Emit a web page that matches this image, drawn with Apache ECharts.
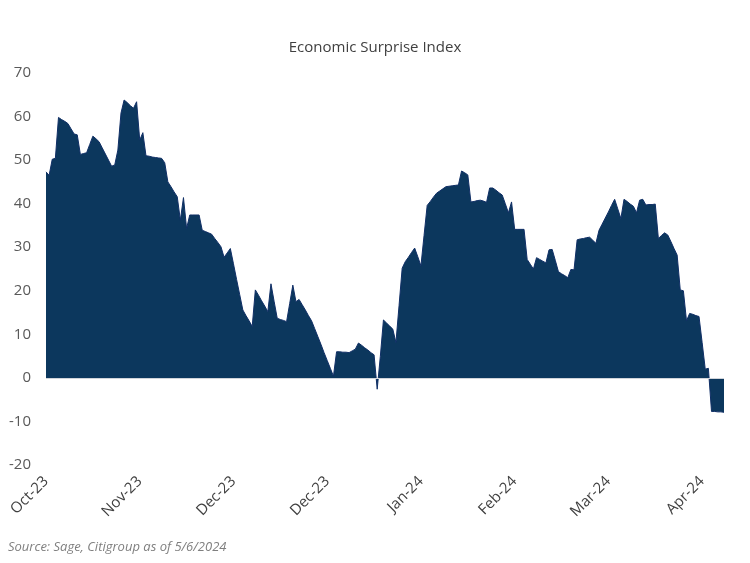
<!DOCTYPE html>
<html lang="en">
<head>
    <meta charset="UTF-8">
    <title>Economic Surprise Index</title>
    <script src="https://cdn.jsdelivr.net/npm/echarts@6/dist/echarts.min.js"></script>
</head>
<body style="margin:0;background:#fff;">

<div id="chart_wrap" style="width: 750px; height: 563px;"></div>

<script>
    // daily points, 2 Oct 2023 .. 6 May 2024
    var start_date = "2023-10-02";
    var day_count = 218;
    var month_names = ["Jan", "Feb", "Mar", "Apr", "May", "Jun", "Jul", "Aug", "Sep", "Oct", "Nov", "Dec"];

    var surprise = [
        47.3, 46.5, 50.2, 50.4, 59.8, 59.3, 58.9, 58.4, 57.2, 56.0,
        55.8, 51.3, 51.5, 51.7, 53.6, 55.5, 54.9, 54.2, 52.8, 51.4,
        50.0, 48.6, 48.9, 52.3, 60.8, 63.8, 63.2, 62.5, 61.9, 63.4,
        54.6, 56.3, 51.0, 50.9, 50.7, 50.6, 50.5, 50.4, 49.4, 45.0,
        43.9, 42.7, 41.6, 36.2, 41.4, 34.3, 37.4, 37.4, 37.4, 37.4,
        33.9, 33.6, 33.3, 33.0, 32.0, 31.1, 30.1, 27.7, 28.7, 29.7,
        26.2, 22.6, 19.1, 15.6, 14.3, 13.1, 11.8, 20.2, 19.0, 17.7,
        16.5, 15.2, 21.6, 17.6, 13.7, 13.4, 13.2, 12.9, 17.1, 21.3,
        17.5, 18.0, 16.8, 15.6, 14.3, 13.1, 11.3, 9.5, 7.7, 5.8,
        4.0, 2.2, 0.4, 6.0, 6.0, 5.9, 5.9, 5.8, 6.2, 6.6,
        8.0, 7.5, 6.9, 6.4, 5.8, 5.3, -2.6, 4.9, 13.3, 12.6,
        11.9, 11.2, 8.1, 16.6, 25.2, 26.7, 27.7, 28.8, 29.8, 27.8,
        25.7, 32.7, 39.6, 40.5, 41.5, 42.4, 42.9, 43.4, 43.9, 44.0,
        44.1, 44.2, 44.3, 47.5, 47.1, 46.6, 40.4, 40.5, 40.7, 40.8,
        40.6, 40.3, 43.6, 43.6, 43.1, 42.5, 42.0, 40.0, 37.9, 40.4,
        34.1, 34.1, 34.1, 34.1, 27.2, 26.1, 25.0, 27.6, 27.2, 26.8,
        26.4, 29.4, 29.5, 27.0, 24.4, 23.9, 23.5, 23.0, 24.9, 24.8,
        31.7, 31.9, 32.0, 32.2, 32.3, 31.6, 30.9, 33.9, 35.3, 36.7,
        38.1, 39.6, 41.0, 38.8, 36.6, 41.0, 40.5, 39.9, 39.4, 37.9,
        40.8, 41.0, 39.7, 39.8, 39.8, 39.9, 32.0, 32.7, 33.3, 32.8,
        31.3, 29.7, 28.2, 20.2, 20.0, 13.1, 14.8, 14.6, 14.3, 14.1,
        8.1, 2.0, 2.2, -7.7, -7.7, -7.8, -7.8, -7.9
    ];

    var y_min = -20;
    var y_max = 70;
    var y_step = 10;

    function makeDays(first, n) {
        var out = [];
        var d = new Date(first + "T00:00:00Z");
        for (var i = 0; i < n; i++) {
            out.push(d.toISOString().slice(0, 10));
            d.setUTCDate(d.getUTCDate() + 1);
        }
        return out;
    }

    var days = makeDays(start_date, day_count);

    function dayLabel(val) {
        var p = val.split("-");
        return month_names[parseInt(p[1], 10) - 1] + "-" + p[0].slice(2);
    }

    var myChart = echarts.init(document.getElementById("chart_wrap"));

    var option = {
        backgroundColor: "#ffffff",
        animation: false,
        title: {
            text: "Economic Surprise Index",
            left: "center",
            top: 35,
            textStyle: {
                fontFamily: "Open Sans",
                fontSize: 15,
                fontWeight: "normal",
                color: "#404040"
            }
        },
        grid: {
            left: 46,
            right: 26,
            top: 73,
            bottom: 98
        },
        xAxis: {
            type: "category",
            data: days,
            boundaryGap: false,
            axisLine: { show: false },
            axisTick: { show: false },
            axisLabel: {
                interval: 29,
                rotate: 45,
                margin: 14,
                formatter: dayLabel,
                fontFamily: "Open Sans",
                fontSize: 15,
                color: "#404040"
            },
            splitLine: { show: false }
        },
        yAxis: {
            type: "value",
            min: y_min,
            max: y_max,
            interval: y_step,
            axisLine: { show: false },
            axisTick: { show: false },
            splitLine: { show: false },
            axisLabel: {
                margin: 15,
                fontFamily: "Open Sans",
                fontSize: 15,
                color: "#595959"
            }
        },
        series: [
            {
                name: "Economic Surprise Index",
                type: "line",
                data: surprise,
                symbol: "none",
                lineStyle: { color: "#102f66", width: 1 },
                areaStyle: { color: "#0c375d", opacity: 1 },
                markLine: {
                    silent: true,
                    symbol: ["none", "none"],
                    label: { show: false },
                    lineStyle: { color: "#d0d4da", width: 1, type: "solid" },
                    data: [{ yAxis: 0 }]
                }
            }
        ],
        graphic: [
            {
                type: "text",
                left: 8,
                top: 541,
                style: {
                    text: "Source: Sage, Citigroup as of 5/6/2024",
                    fontFamily: "Open Sans",
                    fontStyle: "italic",
                    fontSize: 13,
                    fill: "#7f7f7f"
                }
            }
        ]
    };

    myChart.setOption(option);
</script>
</body>
</html>
